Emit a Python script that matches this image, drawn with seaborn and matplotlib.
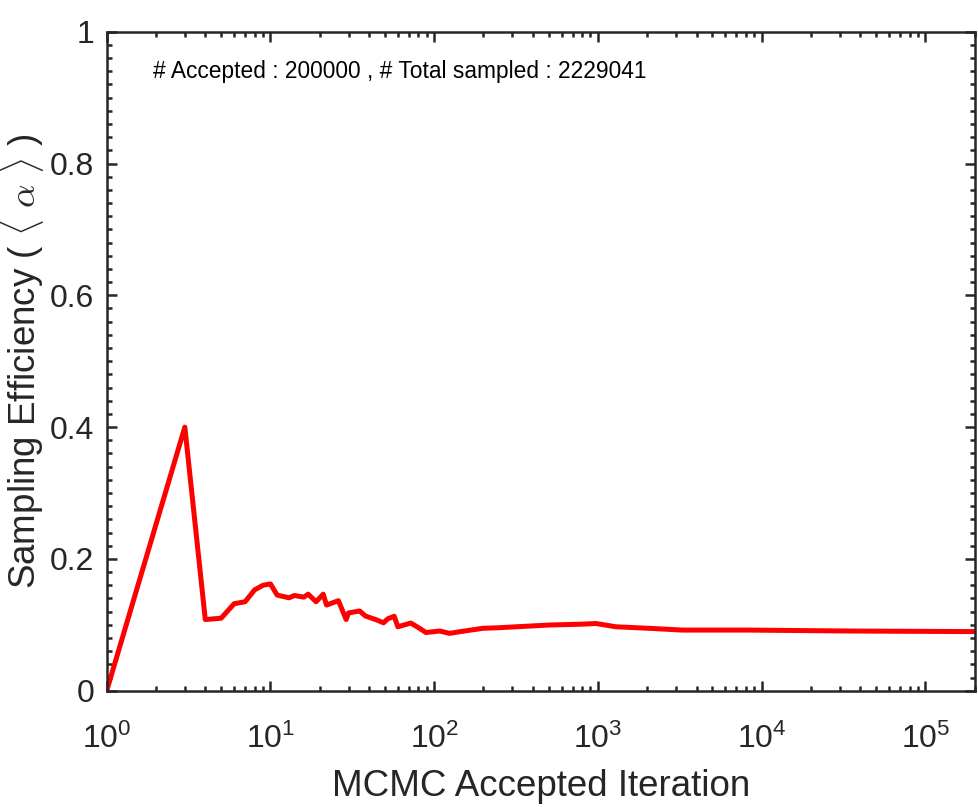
import matplotlib
matplotlib.use("Agg")
import matplotlib.pyplot as plt
import matplotlib.ticker as mticker
import numpy as np
import pandas as pd
import seaborn as sns

# кривая эффективности: итерация -> средняя доля принятых
iterations = [1, 3, 4, 5, 6, 7, 8, 9, 10, 11, 13, 14, 16, 17, 19, 21, 22, 26,
              29, 30, 35, 38, 45, 49, 52, 57, 60, 72, 81, 89, 108, 124, 143,
              198, 250, 316, 505, 806, 972, 1288, 2056, 3283, 8330, 34000, 200000]
efficiency = [0.0, 0.400, 0.108, 0.110, 0.132, 0.135, 0.153, 0.160, 0.162, 0.145,
              0.141, 0.1445, 0.142, 0.1465, 0.135, 0.1465, 0.130, 0.1366,
              0.108, 0.118, 0.121, 0.1134, 0.107, 0.103, 0.109, 0.113, 0.097,
              0.1027, 0.095, 0.0883, 0.0906, 0.087, 0.0895, 0.0947, 0.0956,
              0.097, 0.0997, 0.101, 0.102, 0.097, 0.0947, 0.092, 0.092, 0.0906,
              0.0897]

n_accepted = 200000
n_total = 2229041

sns.set_theme(style="ticks")
plt.rcParams["font.family"] = ["Liberation Sans", "DejaVu Sans"]
plt.rcParams["mathtext.fontset"] = "cm"
plt.rcParams["axes.linewidth"] = 1.8

df = pd.DataFrame({"iter": iterations, "eff": efficiency})

fig = plt.figure(figsize=(9.79, 8.07), dpi=100)
ax = fig.add_axes([0.109, 0.1441, 0.8866, 0.8166])

sns.lineplot(data=df, x="iter", y="eff", ax=ax, color="#ff0000", linewidth=3.6)

ax.set_xscale("log")
ax.set_xlim(1, n_accepted)
ax.set_ylim(0, 1)

ax.xaxis.set_major_locator(mticker.LogLocator(base=10, numticks=10))
ax.xaxis.set_minor_locator(mticker.LogLocator(base=10, subs=np.arange(2, 10), numticks=20))
ax.xaxis.set_major_formatter(mticker.FuncFormatter(lambda v, p: r"$\mathregular{10^{%d}}$" % round(np.log10(v))))
ax.xaxis.set_minor_formatter(mticker.NullFormatter())
ax.yaxis.set_major_locator(mticker.MultipleLocator(0.2))
ax.yaxis.set_minor_locator(mticker.MultipleLocator(0.02))
ax.yaxis.set_major_formatter(mticker.FuncFormatter(lambda v, p: "%g" % round(v, 2)))

ax.tick_params(which="both", direction="in", top=True, right=True,
               colors="#262626", labelsize=23, width=1.8)
ax.tick_params(which="major", length=7.2)
ax.tick_params(which="minor", length=3.6)
ax.tick_params(axis="x", which="major", pad=24)
ax.tick_params(axis="y", which="major", pad=9)
for s in ax.spines.values():
    s.set_color("#262626")

ax.set_xlabel("MCMC Accepted Iteration", fontsize=26.5, color="#262626", labelpad=10)
ax.set_ylabel(r"Sampling Efficiency ( $\langle\ \alpha\ \rangle$ )", fontsize=26.5,
              color="#262626", labelpad=2.5)

ax.text(0.053, 0.93, f"# Accepted : {n_accepted} , # Total sampled : {n_total}",
        transform=ax.transAxes, ha="left", va="baseline", fontsize=16.4, color="black")

fig.savefig("out.png", dpi=100)
